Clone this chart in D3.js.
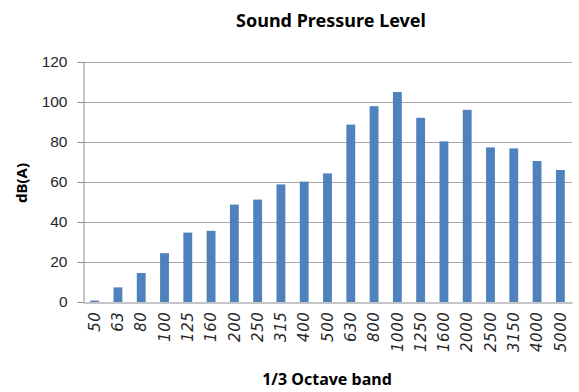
<!DOCTYPE html>
<html>
<head>
<meta charset="utf-8">
<title>Sound Pressure Level</title>
<style>
  body { margin: 0; background: #fff; }
  svg { display: block; font-family: "Noto Sans", "DejaVu Sans", sans-serif; }
</style>
</head>
<body>
<script src="https://d3js.org/d3.v7.min.js"></script>
<script>
// 1/3 octave band centre frequencies (Hz)
var bands = ["50", "63", "80", "100", "125", "160", "200", "250", "315", "400", "500",
             "630", "800", "1000", "1250", "1600", "2000", "2500", "3150", "4000", "5000"];
// level per band, dB(A)
var levels = [0.7, 7.3, 14.5, 24.4, 34.7, 35.6, 48.7, 51.2, 58.8, 60.2, 64.3,
              88.7, 97.9, 105, 92.1, 80.3, 96.1, 77.3, 76.8, 70.5, 66.0];
var yTicks = [0, 20, 40, 60, 80, 100, 120];

var W = 579, H = 392;
var margin = {top: 62, right: 7, bottom: 90, left: 83};
var width = W - margin.left - margin.right,
    height = H - margin.top - margin.bottom;

var svg = d3.select("body").append("svg")
    .attr("width", W)
    .attr("height", H);

var g = svg.append("g")
    .attr("transform", "translate(" + margin.left + "," + margin.top + ")");

var x = d3.scaleBand().domain(bands).range([0, width]).paddingInner(0.62).paddingOuter(0.31);
var y = d3.scaleLinear().domain([0, 120]).range([height, 0]);

// gridlines
g.selectAll(".grid")
    .data(yTicks.slice(1))
    .enter().append("line")
    .attr("x1", 0).attr("x2", width)
    .attr("y1", function(d) { return Math.round(y(d)) + 0.5; })
    .attr("y2", function(d) { return Math.round(y(d)) + 0.5; })
    .attr("stroke", "#a6a6a6")
    .attr("stroke-width", 1);

// bars
g.selectAll(".bar")
    .data(levels)
    .enter().append("rect")
    .attr("x", function(d, i) { return x(bands[i]); })
    .attr("width", x.bandwidth())
    .attr("y", function(d) { return y(d); })
    .attr("height", function(d) { return height - y(d); })
    .attr("fill", "#4f81bd");

// y axis
var yAxis = g.append("g")
    .attr("transform", "translate(0.5,0)")
    .call(d3.axisLeft(y).tickValues(yTicks).tickSize(6).tickSizeOuter(0).tickPadding(10));
yAxis.select(".domain").attr("stroke", "#8c8c8c");
yAxis.selectAll(".tick line").attr("stroke", "#8c8c8c");
yAxis.selectAll("text")
    .attr("fill", "#262626")
    .style("font-size", "15.5px");

// x axis
var xAxis = g.append("g")
    .attr("transform", "translate(0," + (Math.round(height) + 0.5) + ")")
    .call(d3.axisBottom(x).tickSize(0).tickPadding(0));
xAxis.select(".domain").attr("stroke", "#8c8c8c");
xAxis.selectAll("text")
    .attr("fill", "#262626")
    .style("font-family", "'DejaVu Sans', sans-serif")
    .style("font-size", "15px")
    .style("font-style", "italic")
    .style("letter-spacing", "0.6px")
    .attr("text-anchor", "end")
    .attr("transform", "rotate(-90)")
    .attr("x", -9)
    .attr("y", 0)
    .attr("dy", "0.35em");

// titles
svg.append("text")
    .attr("x", 331).attr("y", 27)
    .attr("text-anchor", "middle")
    .style("font-size", "18px")
    .style("font-weight", "bold")
    .attr("fill", "#000")
    .text("Sound Pressure Level");

svg.append("text")
    .attr("transform", "translate(27,183) rotate(-90)")
    .attr("text-anchor", "middle")
    .style("font-size", "15px")
    .style("font-weight", "bold")
    .attr("fill", "#000")
    .text("dB(A)");

svg.append("text")
    .attr("x", 327).attr("y", 385)
    .attr("text-anchor", "middle")
    .style("font-size", "16px")
    .style("font-weight", "bold")
    .attr("fill", "#000")
    .text("1/3 Octave band");
</script>
</body>
</html>
